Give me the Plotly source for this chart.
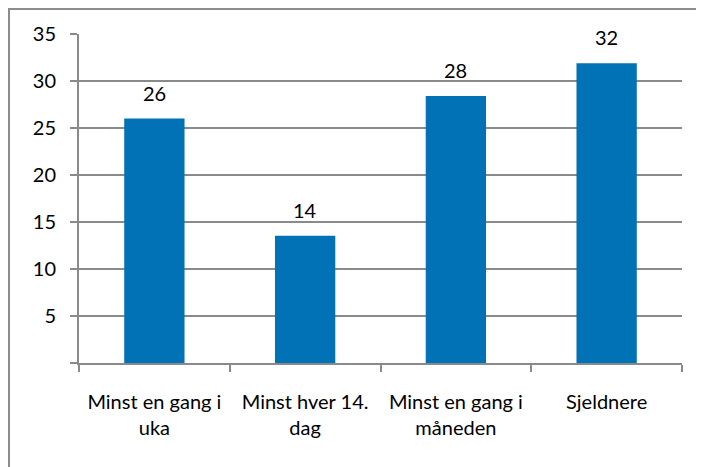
import plotly.graph_objects as go

categories = ["Minst en gang i<br>uka", "Minst hver 14.<br>dag", "Minst en gang i<br>måneden", "Sjeldnere"]
values = [26.0, 13.55, 28.4, 31.9]
value_labels = ["26", "14", "28", "32"]
y_tickvals = [0, 5, 10, 15, 20, 25, 30, 35]
y_ticktext = ["", "5", "10", "15", "20", "25", "30", "35"]

FONT = "Lato, Carlito, Calibri, sans-serif"
GRID = "#8a8a8a"

fig = go.Figure()
fig.add_trace(go.Bar(
    x=categories, y=values,
    marker=dict(color="#0172B6", line=dict(width=0)),
    width=0.4, hoverinfo="skip",
))

for c, v, t in zip(categories, values, value_labels):
    fig.add_annotation(x=c, y=v, text=t, showarrow=False, yshift=26,
                       font=dict(family=FONT, size=20, color="#000"))

fig.add_shape(type="rect", xref="paper", yref="paper",
              x0=-0.1161, x1=1.2, y0=-0.5, y1=1.076,
              line=dict(color="#8c8c8c", width=2), layer="below")

fig.update_layout(
    width=704, height=467,
    margin=dict(l=71, r=30, t=26, b=112),
    paper_bgcolor="white", plot_bgcolor="white",
    showlegend=False,
    font=dict(family=FONT, size=20, color="#000"),
    bargap=0.6,
)
fig.update_xaxes(
    type="category", tickson="boundaries", ticks="outside", ticklen=7,
    tickcolor=GRID, tickwidth=2, showline=True, linecolor=GRID, linewidth=2,
    showgrid=False, tickfont=dict(family=FONT, size=20), ticklabelstandoff=20,
    automargin=False,
)
fig.update_yaxes(
    range=[0, 35], tickvals=y_tickvals, ticktext=y_ticktext,
    ticks="outside", ticklen=7, tickcolor=GRID, tickwidth=2,
    showline=True, linecolor=GRID, linewidth=2,
    showgrid=True, gridcolor=GRID, gridwidth=2, zeroline=False,
    tickfont=dict(family=FONT, size=20), ticklabelstandoff=10,
    automargin=False,
)

fig.write_html("out.html")
